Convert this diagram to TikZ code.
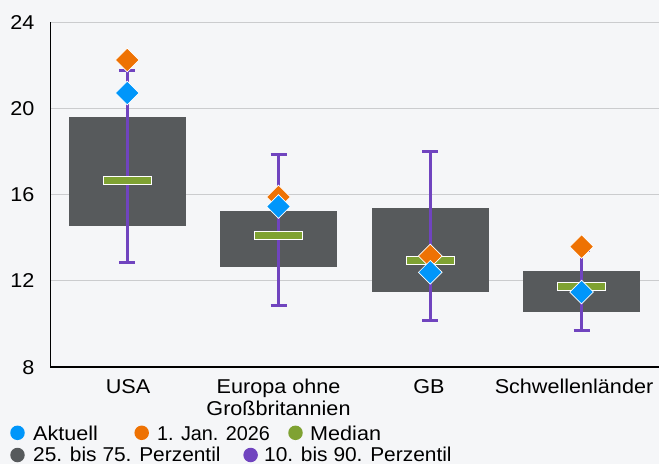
\documentclass[tikz,border=0pt]{standalone}
\usepackage{fontspec}
\setmainfont{Liberation Sans}[FakeStretch=1.08]
\newfontfamily\legfont{Liberation Sans}[FakeStretch=1.045]
\newfontfamily\janfont{Liberation Sans}[FakeStretch=0.99]
\usetikzlibrary{shapes.geometric}
\definecolor{bg}{HTML}{F5F6F8}
\definecolor{gridc}{HTML}{CBCCCE}
\definecolor{boxc}{HTML}{575A5C}
\definecolor{medc}{HTML}{7FA232}
\definecolor{purp}{HTML}{7044BF}
\definecolor{orng}{HTML}{EE7203}
\definecolor{blu}{HTML}{0096FA}
\tikzset{
 iqr/.style={fill=boxc, draw=none, inner sep=0, minimum width=117pt},
 whisk/.style={draw=purp, line width=3pt},
 medbar/.style={fill=medc, draw=white, line width=1pt, inner sep=0, minimum width=48pt, minimum height=8pt},
 dia/.style={diamond, inner sep=0, minimum width=24pt, minimum height=24pt, draw=white, line width=0.7pt},
 cur/.style={dia, fill=blu},
 jan/.style={dia, fill=orng},
 lbl/.style={font=\fontsize{20}{22}\selectfont, inner sep=0},
 ldot/.style={circle, inner sep=0, minimum size=14.5pt},
 gridl/.style={draw=gridc, line width=1pt},
}
% #1 name, #2 x, #3 box top, #4 box bottom, #5 median, #6 whisker hi, #7 whisker lo, #8 orange, #9 blue
\newcommand\catplot[9]{%
  \node[iqr, minimum height={(#4)-(#3)}] (#1box) at (#2,{((#3)+(#4))/2}) {};
  \coordinate (#1hi) at (#2,#6);
  \coordinate (#1lo) at (#2,#7);
  \draw[whisk] (#1hi) -- (#1lo);
  \draw[whisk] ([xshift=-8pt]#1hi) -- ([xshift=8pt]#1hi);
  \draw[whisk] ([xshift=-8pt]#1lo) -- ([xshift=8pt]#1lo);
  \node[medbar] (#1med) at (#2,#5) {};
  \node[jan] (#1jan) at (#2,#8) {};
  \node[cur] (#1cur) at (#2,#9) {};
}
\begin{document}
\begin{tikzpicture}[x=1pt,y=-1pt]
\fill[bg] (0,0) rectangle (659,464);
\useasboundingbox (0,0) rectangle (659,464);
% grid
\foreach \yy/\vv in {22/24,108.2/20,194.4/16,280.6/12}{
  \draw[gridl] (50.5,\yy) -- (659,\yy);
}
\foreach \yy/\vv in {22/24,108.2/20,194.4/16,280.6/12,366.8/8}{
  \node[lbl, anchor=base east] (t\vv) at (34.5,\yy+7.2) {\vv};
}
% axes
\coordinate (orig) at (50.5,366.8);
\coordinate (ytop) at (50.5,22);
\coordinate (xend) at (659,366.8);
\draw[line width=1.4pt] (ytop) -- (orig) -- (xend);
% categories
\catplot{usa}{127.3}{117}{225.7}{180}{70.7}{262.3}{60}{93}
\catplot{eur}{278.5}{211}{266.7}{235}{154}{305}{197}{206.5}
\catplot{gb}{430.3}{208}{292}{260.5}{151.7}{320.7}{256}{272.3}
\catplot{sch}{581.6}{271}{311.7}{286}{250}{330.3}{246.7}{292}
% category labels
\node[lbl, anchor=base] (lusa) at (128,393.2) {USA};
\node[lbl, anchor=base] (leur1) at (278.5,393.2) {Europa ohne};
\node[lbl, anchor=base] (leur2) at (278.5,415.3) {Großbritannien};
\node[lbl, anchor=base] (lgb) at (429,393.2) {GB};
\node[lbl, anchor=base] (lsch) at (574,393.2) {Schwellenländer};
% legend
\node[ldot, fill=blu] (d1) at (17.5,432.8) {};
\node[lbl, anchor=base west] (k1) at (33,440) {Aktuell};
\node[ldot, fill=orng] (d2) at (141.7,432.8) {};
\node[lbl, anchor=base west] (k2) at (157,440) {\janfont 1. Jan. 2026};
\node[ldot, fill=medc] (d3) at (295.5,432.8) {};
\node[lbl, anchor=base west] (k3) at (310,440) {Median};
\node[ldot, fill=boxc] (d4) at (17.5,455) {};
\node[lbl, anchor=base west] (k4) at (33,461.3) {\legfont 25. bis 75. Perzentil};
\node[ldot, fill=purp] (d5) at (250.6,455) {};
\node[lbl, anchor=base west] (k5) at (264,461.3) {\legfont 10. bis 90. Perzentil};
\end{tikzpicture}
\end{document}
